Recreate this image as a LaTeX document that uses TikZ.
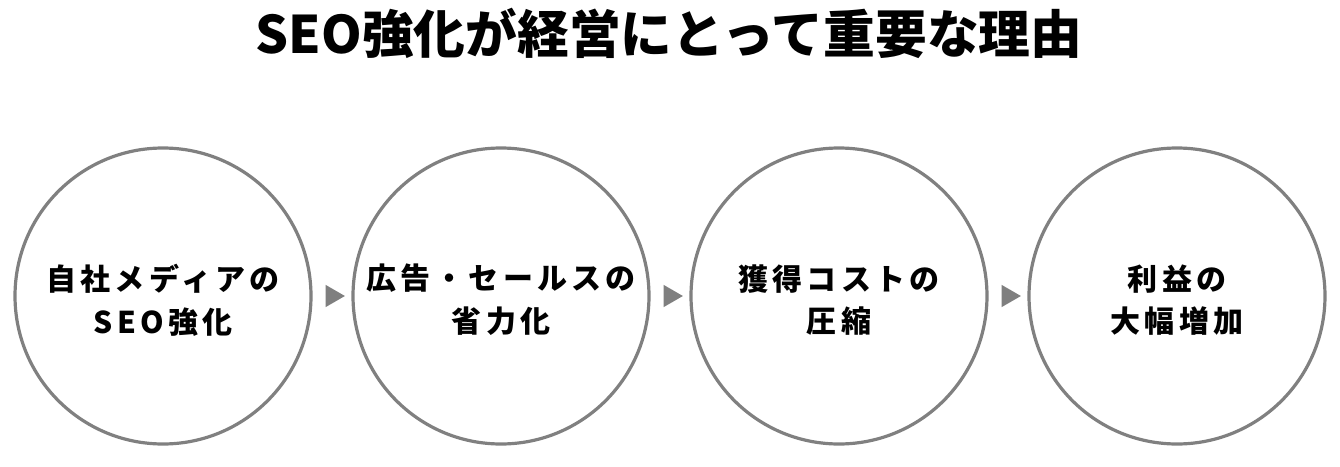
\documentclass[tikz,border=0pt]{standalone}
\usepackage{fontspec}
\usetikzlibrary{shapes.geometric}
\newfontfamily\jp{Noto Sans CJK JP}
\newfontfamily\jpls{Noto Sans CJK JP}[LetterSpace=14]
\definecolor{ringgray}{HTML}{808080}
\definecolor{tipgray}{HTML}{7F7F7F}
\tikzset{
  ring/.style={circle, draw=ringgray, line width=2.4pt, minimum size=222pt, inner sep=0pt},
  ringtext/.style={align=center, inner sep=0pt, yshift=-3pt,
    font=\jpls\bfseries\fontsize{22.5pt}{32pt}\selectfont},
  tip/.style={isosceles triangle, isosceles triangle apex angle=60, fill=tipgray, draw=none,
    minimum height=14.5pt, inner sep=0pt},
  titletext/.style={font=\jp\bfseries\fontsize{38.8pt}{40pt}\selectfont}
}
\begin{document}
\begin{tikzpicture}[x=0.75pt,y=-0.75pt]
\fill[white] (0,0) rectangle (1340,467);
\useasboundingbox (0,0) rectangle (1340,467);
\node[titletext] (title) at (669,33) {SEO強化が経営にとって重要な理由};
\node[ring] (c1) at (163,296) {};
\node[ring] (c2) at (501,296) {};
\node[ring] (c3) at (839,296) {};
\node[ring] (c4) at (1177,296) {};
\node[ringtext] (t1) at (c1.center) {自社メディアの\\SEO強化};
\node[ringtext] (t2) at (c2.center) {広告・セールスの\\省力化};
\node[ringtext] (t3) at (c3.center) {獲得コストの\\圧縮};
\node[ringtext] (t4) at (c4.center) {利益の\\大幅増加};
\path (c1.east) -- node[tip] (a1) {} (c2.west);
\path (c2.east) -- node[tip] (a2) {} (c3.west);
\path (c3.east) -- node[tip] (a3) {} (c4.west);
\end{tikzpicture}
\end{document}
